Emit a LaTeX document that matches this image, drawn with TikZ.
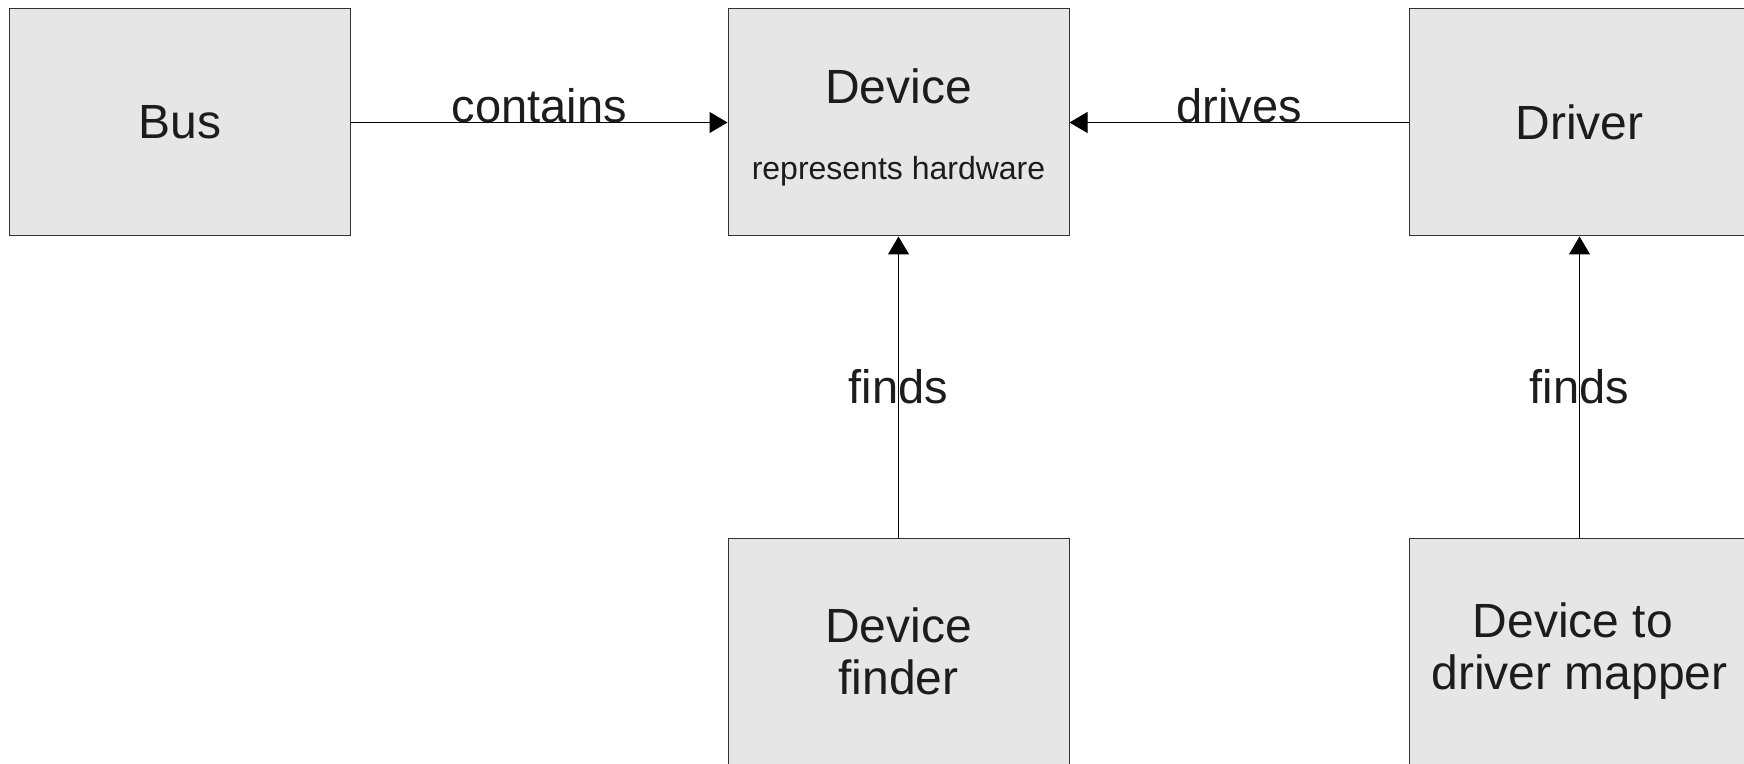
\documentclass[tikz,border=0pt]{standalone}
\usepackage{fontspec}
\setmainfont{Liberation Sans}
\usetikzlibrary{arrows.meta,positioning}
\definecolor{boxf}{HTML}{E6E6E6}
\definecolor{boxd}{HTML}{333333}
\definecolor{txtc}{HTML}{1C1C1C}
\tikzset{
  ar/.style={-{Triangle[length=9pt,width=10.5pt]},line width=0.5pt,black},
  box/.style={draw=boxd,line width=0.5pt,fill=boxf,minimum width=170.5pt,minimum height=113.5pt,inner sep=0pt,align=center,text=txtc,font=\fontsize{24}{26}\selectfont},
  txt/.style={anchor=base,inner sep=0pt,text=txtc,font=\fontsize{24}{26}\selectfont},
  sub/.style={anchor=base,inner sep=0pt,text=txtc,font=\fontsize{16}{19}\selectfont},
  lbl/.style={inner sep=0pt,text=txtc,font=\fontsize{23.5}{28}\selectfont}
}
\begin{document}
\begin{tikzpicture}[x=0.5pt,y=-0.5pt]
\useasboundingbox (0,0) rectangle (1744,764);
\clip (0,0) rectangle (1744,764);
% top row
\node[box] (bus) at (180,122.5) {Bus};
\node[box] (dev) at (898.5,122.5) {};
\node[txt] (devname) at (898.5,104) {Device};
\node[sub] (devnote) at (898.5,180) {represents hardware};
\node[box] (drv) at (1579.5,122.5) {Driver};
% bottom row
\node[box] (finder) at (898.5,651.5) {Device\\finder};
\node[box] (mapper) at (1579.5,651.5) {Device to\kern0.28em\\driver mapper};
% connectors
\draw[ar] (bus) -- node[lbl,anchor=base]{contains} (dev);
\draw[ar] (drv) -- node[lbl,anchor=base]{drives} (dev);
\draw[ar] (finder) -- node[lbl]{finds} (dev);
\draw[ar] (mapper) -- node[lbl]{finds} (drv);
\end{tikzpicture}
\end{document}
